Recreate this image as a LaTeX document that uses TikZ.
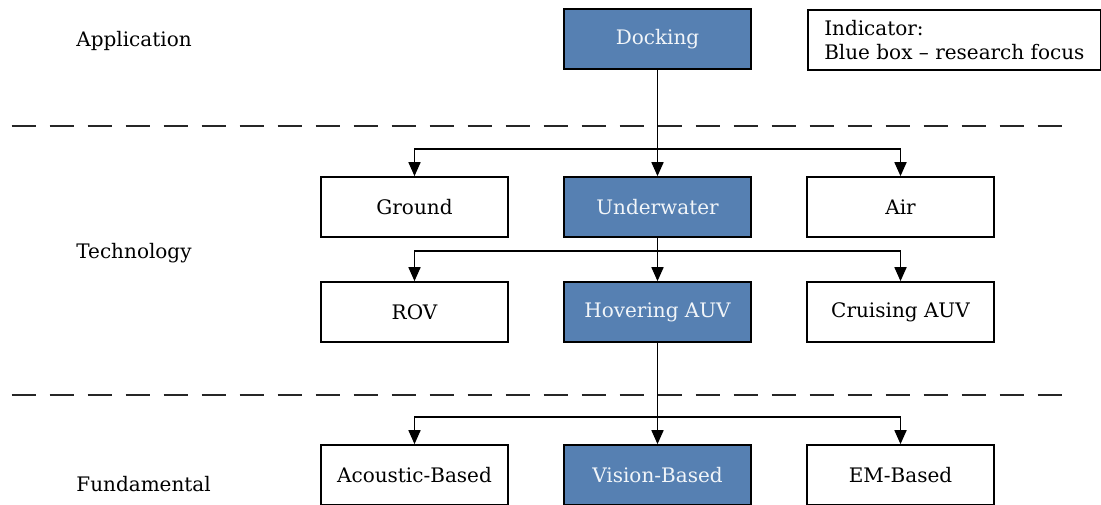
\documentclass[tikz,border=0pt]{standalone}
\usepackage{fontspec}
\setmainfont{DejaVu Serif}
\usetikzlibrary{arrows.meta}
\definecolor{focusblue}{RGB}{86,128,178}

\begin{document}
\begin{tikzpicture}[x=0.5pt,y=-0.5pt,>={Triangle[length=7pt,width=6pt]},
  box/.style={draw,line width=0.85pt,minimum width=93.5pt,minimum height=30pt,inner sep=0pt},
  focus/.style={box,fill=focusblue,text=white!92!focusblue},
  layer/.style={anchor=west,inner sep=0pt},
  sep/.style={line width=1pt,draw=black!85,dash pattern=on 12pt off 7pt},
  link/.style={line width=0.85pt,->}]
 \useasboundingbox (0,0) rectangle (1101,504);
 % layer names
 \node[layer] (app) at (76,41) {Application};
 \node[layer] (tech) at (76,253) {Technology};
 \node[layer] (fund) at (76,484) {Fundamental};
 % layer borders
 \draw[sep] (11.7,126) -- (1062,126);
 \draw[sep] (11.7,395) -- (1062,395);
 % indicator
 \node[draw,line width=0.85pt,anchor=north west,align=left,inner sep=3pt,
   minimum height=30pt,minimum width=146.5pt] (ind) at (807,9)
   {Indicator:\\Blue box -- research focus};
 % boxes
 \node[focus] (dock) at (657.5,39) {Docking};
 \node[box] (ground) at (414.5,207) {Ground};
 \node[focus] (under) at (657.5,207) {Underwater};
 \node[box] (air) at (900.5,207) {Air};
 \node[box] (rov) at (414.5,312) {ROV};
 \node[focus] (hauv) at (657.5,312) {Hovering AUV};
 \node[box] (cauv) at (900.5,312) {Cruising AUV};
 \node[box] (acou) at (414.5,475) {Acoustic-Based};
 \node[focus] (vis) at (657.5,475) {Vision-Based};
 \node[box] (em) at (900.5,475) {EM-Based};
 % branch points
 \coordinate (b1) at (657.5,149);
 \coordinate (b2) at (657.5,251);
 \coordinate (b3) at (657.5,417);
 % connectors
 \draw[link] (dock) -- (under);
 \draw[link] (b1) -| (ground);
 \draw[link] (b1) -| (air);
 \draw[link] (under) -- (hauv);
 \draw[link] (b2) -| (rov);
 \draw[link] (b2) -| (cauv);
 \draw[link] (hauv) -- (vis);
 \draw[link] (b3) -| (acou);
 \draw[link] (b3) -| (em);
\end{tikzpicture}
\end{document}
